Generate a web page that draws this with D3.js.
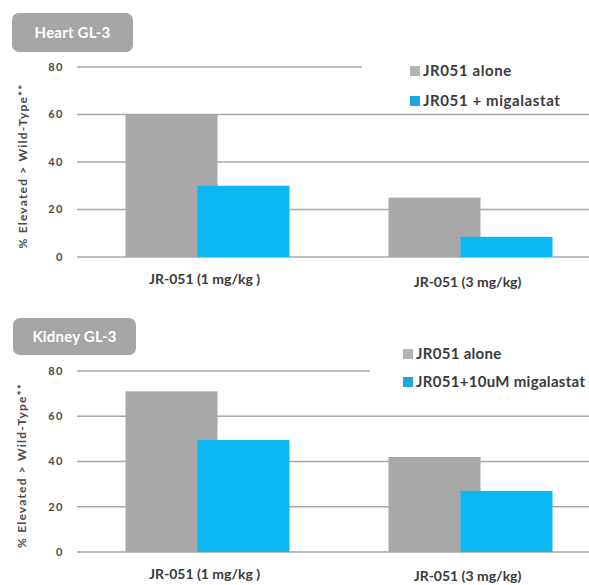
<!DOCTYPE html>
<html>
<head>
<meta charset="utf-8">
<script src="https://cdn.jsdelivr.net/npm/d3@7/dist/d3.min.js"></script>
<style>
  html, body { margin: 0; padding: 0; background: #fff; }
  svg { display: block; }
  text { font-family: Lato, "Open Sans", sans-serif; }
</style>
</head>
<body>
<script>
// ---- data ----
const categories = ["JR-051 (1 mg/kg )", "JR-051 (3 mg/kg)"];
const seriesKeys = ["alone", "migalastat"];
const heartAlone = [60, 25];
const heartMigalastat = [30, 8.5];
const kidneyAlone = [71, 42];
const kidneyMigalastat = [49.5, 27];
const yTicks = [0, 20, 40, 60, 80];
const heartLegend = ["JR051 alone", "JR051 + migalastat"];
const kidneyLegend = ["JR051 alone", "JR051+10uM migalastat"];
const panelTitles = ["Heart GL-3", "Kidney GL-3"];
const yAxisTitle = "% Elevated > Wild-Type**";

// ---- styles ----
const W = 589, H = 585;
const grayColor = "#a8a8a8";
const blueColor = "#0cb8f4";
const gridColor = "#a9a9a9";
const textColor = "#3a3a3a";

const svg = d3.select("body").append("svg").attr("width", W).attr("height", H);

const x0 = d3.scaleBand().domain(categories).range([76, 602]).paddingInner(0);
const xs = d3.scalePoint().domain(seriesKeys).range([-36, 36]);
const barW = 92;

const panels = [
  { title: panelTitles[0], alone: heartAlone, mig: heartMigalastat, legend: heartLegend,
    y0: 257, y80: 67, pill: [12, 13, 121, 39], legX: 410, legY: [71, 101], legBg: [362, 52, 227, 58],
    labY: [279, 282], titleX: 23, legSpacing: 0.6 },
  { title: panelTitles[1], alone: kidneyAlone, mig: kidneyMigalastat, legend: kidneyLegend,
    y0: 552, y80: 371, pill: [13, 318, 123, 37], legX: 403, legY: [354, 382], legBg: [370, 340, 219, 62],
    labY: [574, 576], titleX: 22, legSpacing: 0.3 }
];

panels.forEach(p => {
  const g = svg.append("g");
  const y = d3.scaleLinear().domain([0, 80]).range([p.y0, p.y80]);

  // gridlines
  g.append("g").selectAll("line").data(yTicks).join("line")
    .attr("x1", 77).attr("x2", W)
    .attr("y1", d => y(d)).attr("y2", d => y(d))
    .attr("stroke", gridColor).attr("stroke-width", 1.6);

  // tick labels
  g.append("g").selectAll("text").data(yTicks).join("text")
    .attr("x", 64).attr("y", d => y(d)).attr("dy", "0.35em")
    .attr("text-anchor", "end")
    .attr("font-size", 11).attr("font-weight", 700).attr("letter-spacing", 1.5)
    .attr("fill", "#4a4a4a")
    .text(d => d);

  // bars
  const rows = categories.map((c, i) => ({ c, alone: p.alone[i], migalastat: p.mig[i] }));
  seriesKeys.forEach((k, si) => {
    g.append("g").selectAll("rect").data(rows).join("rect")
      .attr("x", d => x0(d.c) + x0.bandwidth() / 2 + xs(k) - barW / 2)
      .attr("width", barW)
      .attr("y", d => y(d[k]))
      .attr("height", d => y(0) - y(d[k]))
      .attr("fill", si === 0 ? grayColor : blueColor);
  });

  // category labels
  g.append("g").selectAll("text").data(categories).join("text")
    .attr("x", d => x0(d) + x0.bandwidth() / 2 - 3)
    .attr("y", (d, i) => p.labY[i]).attr("dy", "0.35em")
    .attr("text-anchor", "middle")
    .attr("font-size", 14).attr("font-weight", 700)
    .attr("fill", textColor)
    .text(d => d);

  // legend background + items
  g.append("rect").attr("x", p.legBg[0]).attr("y", p.legBg[1])
    .attr("width", p.legBg[2]).attr("height", p.legBg[3]).attr("fill", "#fff");
  const leg = g.append("g").selectAll("g").data(p.legend).join("g")
    .attr("transform", (d, i) => `translate(${p.legX},${p.legY[i]})`);
  leg.append("rect").attr("x", 0).attr("y", -5).attr("width", 10).attr("height", 10)
    .attr("fill", (d, i) => i === 0 ? "#b4b4b4" : "#1ba8de");
  leg.append("text").attr("x", 13).attr("dy", "0.35em")
    .attr("font-size", 15).attr("font-weight", 700).attr("fill", textColor)
    .attr("letter-spacing", p.legSpacing)
    .text(d => d);

  // title pill
  g.append("rect").attr("x", p.pill[0]).attr("y", p.pill[1])
    .attr("width", p.pill[2]).attr("height", p.pill[3])
    .attr("rx", 7).attr("fill", "#a6a6a6");
  g.append("text").attr("x", p.pill[0] + p.pill[2] / 2).attr("y", p.pill[1] + p.pill[3] / 2)
    .attr("dy", "0.35em").attr("text-anchor", "middle")
    .attr("font-size", 15).attr("font-weight", 700).attr("fill", "#fff")
    .attr("letter-spacing", 0.2)
    .text(p.title);

  // y axis title
  const ym = (y(0) + y(80)) / 2 + 4;
  g.append("text")
    .attr("transform", `translate(${p.titleX},${ym}) rotate(-90)`)
    .attr("dy", "0.35em").attr("text-anchor", "middle")
    .attr("font-size", 12).attr("font-weight", 700).attr("fill", "#4a4a4a")
    .attr("letter-spacing", 1.2)
    .text(yAxisTitle);
});
</script>
</body>
</html>
